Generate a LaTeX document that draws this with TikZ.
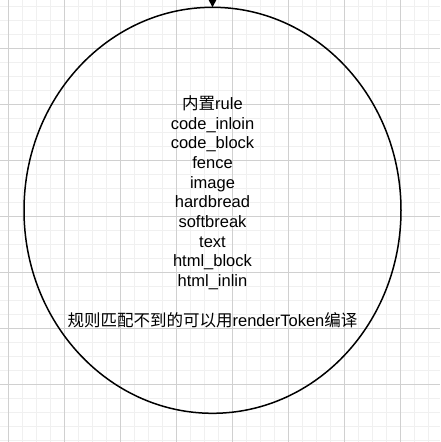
\documentclass[tikz,border=0pt]{standalone}
\usepackage{fontspec}
\setmainfont{Liberation Sans}
\newfontfamily\cjk{Noto Sans CJK SC}
\usetikzlibrary{arrows.meta}
\definecolor{gridmajor}{HTML}{D0D0D0}
\definecolor{gridminor}{HTML}{F0F0F0}
\tikzset{
  label/.style={align=center, inner sep=0pt, font=\fontsize{16.5}{19.7}\selectfont},
}
\begin{document}
\begin{tikzpicture}[x=1pt,y=-1pt]
\useasboundingbox (0,0) rectangle (440,442);
\fill[white] (0,0) rectangle (440,442);
% minor grid
\foreach \i in {0,...,32} {
  \draw[gridminor, line width=1pt] ({8.3+14*\i-14},0) -- ({8.3+14*\i-14},442);
  \draw[gridminor, line width=1pt] (0,{6.3+14*\i}) -- (440,{6.3+14*\i});
}
% major grid
\foreach \i in {0,...,7} {
  \draw[gridmajor, line width=1pt] ({8.3+56*\i},0) -- ({8.3+56*\i},442);
  \draw[gridmajor, line width=1pt] (0,{48.3+56*\i-56}) -- (440,{48.3+56*\i-56});
}
\draw[black, line width=1.5pt] (212.5,210.3) ellipse [x radius=188.5, y radius=203];
\coordinate (top) at (212.5,7.3);
\coordinate (src) at (212.5,-20);
\draw[line width=1.5pt, -{Triangle[length=8pt,width=8pt]}] (src) -- (top);
\node[label] (txt) at (212.5,211.5) {{\cjk 内置}rule\\code\_inloin\\code\_block\\fence\\image\\hardbread\\softbreak\\text\\html\_block\\html\_inlin\\[19.7pt]{\cjk 规则匹配不到的可以用}renderToken{\cjk 编译}};
\end{tikzpicture}
\end{document}
